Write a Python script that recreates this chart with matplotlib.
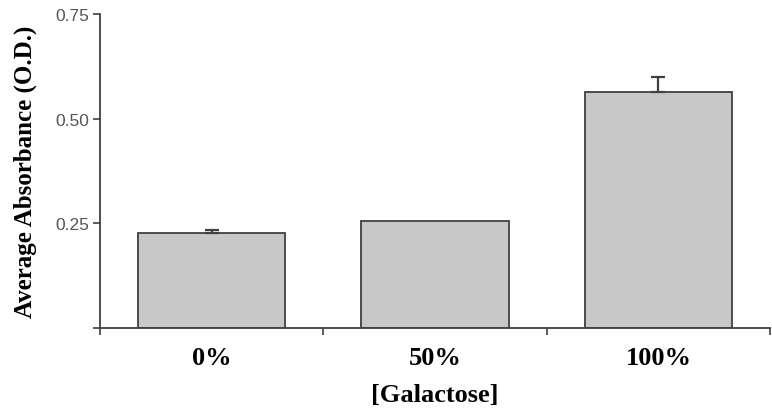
import numpy as np
import matplotlib.pyplot as plt

# absorbance readings per galactose level
conditions = ['0%', '50%', '100%']
absorbance = [0.227, 0.256, 0.564]
sem = [0.006, 0.0, 0.036]

yticks = [0, 0.25, 0.50, 0.75]
ytick_labels = ['', '0.25', '0.50', '0.75']


def main():
    fig = plt.figure(figsize=(7.72, 4.14), dpi=100)
    ax = fig.add_axes([0.1295, 0.2053, 0.868, 0.7585])

    x = np.arange(len(conditions))
    ax.bar(x, absorbance, width=0.66, color='#c8c8c8', edgecolor='#404040',
           linewidth=1.3, zorder=2)
    # only upper half of the error bars is shown, and none where sem is zero
    has_err = np.array(sem) > 0
    ax.errorbar(x[has_err], np.array(absorbance)[has_err],
                yerr=[np.zeros(has_err.sum()), np.array(sem)[has_err]],
                fmt='none', ecolor='#404040', elinewidth=1.6, capsize=4.7,
                capthick=1.6, zorder=3)

    ax.set_xlim(-0.5, len(conditions) - 0.5)
    ax.set_ylim(0, 0.75)

    for side in ('top', 'right'):
        ax.spines[side].set_visible(False)
    for side in ('left', 'bottom'):
        ax.spines[side].set_color('#404040')
        ax.spines[side].set_linewidth(1.3)

    ax.set_yticks(yticks)
    ax.set_yticklabels(ytick_labels, family='Liberation Sans', fontsize=12.5,
                       color='#555555')
    ax.tick_params(axis='y', direction='out', length=5, width=1.2,
                   color='#404040', pad=3)

    ax.set_xticks(x)
    ax.set_xticklabels(conditions, family='Liberation Serif', fontweight='bold',
                       fontsize=19)
    ax.set_xticks(np.arange(-0.5, len(conditions)), minor=True)
    ax.tick_params(axis='x', which='major', length=0, pad=13)
    ax.tick_params(axis='x', which='minor', direction='out', length=5,
                   width=1.2, color='#404040')

    ax.set_xlabel('[Galactose]', family='Liberation Serif', fontweight='bold',
                  fontsize=19, labelpad=10)
    ax.set_ylabel('Average Absorbance (O.D.)', family='Liberation Serif',
                  fontweight='bold', fontsize=18, labelpad=13)

    fig.savefig('out.png', dpi=100)


if __name__ == '__main__':
    main()
